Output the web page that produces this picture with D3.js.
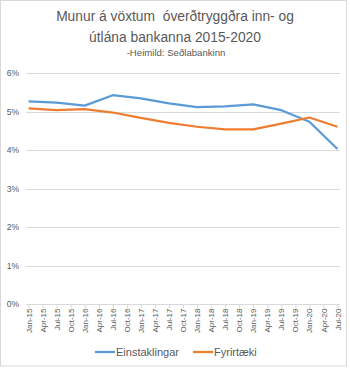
<!DOCTYPE html>
<html>
<head>
<meta charset="utf-8">
<script src="https://cdn.jsdelivr.net/npm/d3@7"></script>
<style>
  body { margin: 0; background: #fff; }
  text { font-family: "Liberation Sans", Arial, sans-serif; fill: #595959; }
</style>
</head>
<body>
<div id="chart"></div>
<script>
// quarterly axis labels
const quarters = ["Jan-15","Apr-15","Jul-15","Oct-15","Jan-16","Apr-16","Jul-16","Oct-16",
    "Jan-17","Apr-17","Jul-17","Oct-17","Jan-18","Apr-18","Jul-18","Oct-18",
    "Jan-19","Apr-19","Jul-19","Oct-19","Jan-20","Apr-20","Jul-20"];

// data points (half-yearly)
const dates = ["Jan-15","Jul-15","Jan-16","Jul-16","Jan-17","Jul-17",
    "Jan-18","Jul-18","Jan-19","Jul-19","Jan-20","Jul-20"];
const einstaklingar = [5.27, 5.24, 5.16, 5.43, 5.35, 5.22, 5.12, 5.14, 5.19, 5.04, 4.74, 4.03];
const fyrirtaeki = [5.09, 5.04, 5.07, 4.98, 4.84, 4.71, 4.61, 4.54, 4.54, 4.69, 4.85, 4.61];

const yTicks = [0, 1, 2, 3, 4, 5, 6];

const seriesNames = ["Einstaklingar", "Fyrirtæki"];
const colors = ["#5b9bd5", "#ed7d31"];

const width = 350, height = 368;

const svg = d3.select("#chart").append("svg")
    .attr("width", width)
    .attr("height", height);

// outer frame
svg.append("rect")
    .attr("x", 0.5).attr("y", 0.5)
    .attr("width", 346).attr("height", 365.5)
    .attr("fill", "none")
    .attr("stroke", "#d9d9d9");

// title
svg.append("text").attr("x", 175).attr("y", 21)
    .attr("text-anchor", "middle").style("font-size", "13.8px")
    .style("white-space", "pre")
    .text("Munur á vöxtum  óverðtryggðra inn- og");
svg.append("text").attr("x", 175).attr("y", 42)
    .attr("text-anchor", "middle").style("font-size", "13.8px")
    .text("útlána bankanna 2015-2020");
svg.append("text").attr("x", 176).attr("y", 56)
    .attr("text-anchor", "middle").style("font-size", "9.6px")
    .text("-Heimild: Seðlabankinn");

const x = d3.scalePoint()
    .domain(quarters)
    .range([28.5, 337.5]);

const y = d3.scaleLinear()
    .domain([0, 6])
    .range([304, 73.3]);

// gridlines
svg.append("g")
    .selectAll("line")
    .data(yTicks.filter(d => d > 0))
    .enter().append("line")
    .attr("x1", 26).attr("x2", 340)
    .attr("y1", d => Math.round(y(d)) + 0.5)
    .attr("y2", d => Math.round(y(d)) + 0.5)
    .attr("stroke", "#d9d9d9");

// y labels
svg.append("g")
    .selectAll("text")
    .data(yTicks)
    .enter().append("text")
    .attr("x", 19)
    .attr("y", d => y(d) + 3)
    .attr("text-anchor", "end")
    .style("font-size", "8.5px")
    .text(d => d + "%");

// x axis
const xAxis = svg.append("g")
    .attr("transform", "translate(0," + (Math.round(y(0)) + 0.5) + ")")
    .call(d3.axisBottom(x).tickSize(4).tickSizeOuter(0).tickPadding(3));
xAxis.select(".domain")
    .attr("stroke", "#d9d9d9")
    .attr("d", "M26,0H340");
xAxis.selectAll(".tick line").attr("stroke", "#d9d9d9");
xAxis.selectAll(".tick text")
    .attr("transform", "rotate(-90)")
    .attr("x", -4)
    .attr("y", 0)
    .attr("dy", "0.32em")
    .style("text-anchor", "end")
    .style("font-size", "8px")
    .attr("fill", "#595959");

// lines
const line = d3.line()
    .x((d, i) => x(dates[i]))
    .y(d => y(d));

[einstaklingar, fyrirtaeki].forEach((vals, k) => {
    svg.append("path")
        .datum(vals)
        .attr("fill", "none")
        .attr("stroke", colors[k])
        .attr("stroke-width", 2.25)
        .attr("stroke-linejoin", "round")
        .attr("d", line);
});

// legend
const legendX = [95, 193];
seriesNames.forEach((name, k) => {
    const g = svg.append("g").attr("transform", "translate(" + legendX[k] + ",352)");
    g.append("line")
        .attr("x1", 0).attr("x2", 20)
        .attr("stroke", colors[k]).attr("stroke-width", 2.25);
    g.append("text")
        .attr("x", 21).attr("y", 4)
        .style("font-size", "11px")
        .text(name);
});
</script>
</body>
</html>
